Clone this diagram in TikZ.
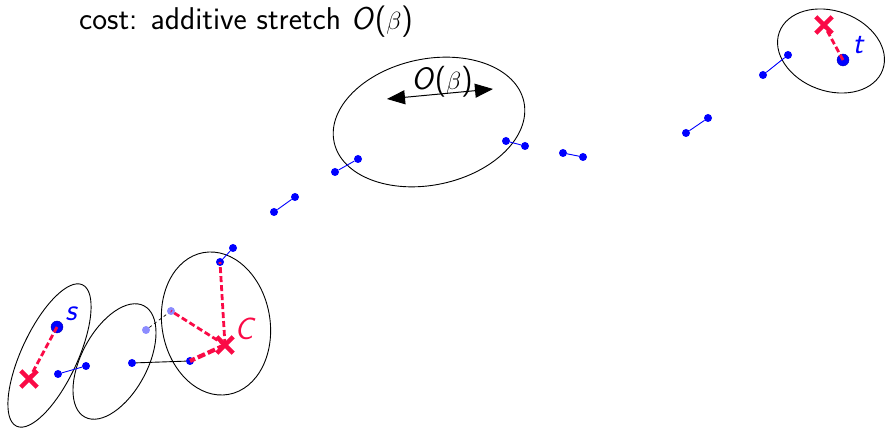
\documentclass[tikz,border=0pt]{standalone}
\usetikzlibrary{arrows.meta}
\definecolor{xred}{RGB}{250,10,70}
\begin{document}
\begin{tikzpicture}[x=1pt,y=1pt,
  dot/.style={circle,fill=blue,inner sep=0pt,minimum size=8pt},
  bigdot/.style={circle,fill=blue,draw=blue!70!black,inner sep=0pt,minimum size=12pt},
  fdot/.style={circle,fill=blue,fill opacity=0.45,inner sep=0pt,minimum size=8pt},
  xmark/.style={inner sep=0pt,minimum size=16pt},
  pair/.style={blue,line width=0.9pt},
  link/.style={black,line width=0.9pt},
  rdash/.style={xred,line width=2.8pt,dash pattern=on 6pt off 3pt},
  rdashthick/.style={xred,line width=4.2pt,dash pattern=on 8pt off 3pt},
  cluster/.style={black,line width=0.9pt},
  lab/.style={font=\fontsize{31}{35}\selectfont\sffamily\itshape,inner sep=0pt}]
\useasboundingbox (0,0) rectangle (886,430);
% clusters
\draw[cluster] (49.5,74.5) ellipse[x radius=78,y radius=28,rotate=65];
\draw[cluster] (114.5,68.5) ellipse[x radius=63,y radius=33,rotate=62];
\draw[cluster] (216,106.5) ellipse[x radius=72,y radius=54,rotate=100];
\draw[cluster] (429,308) ellipse[x radius=97,y radius=63,rotate=12];
\draw[cluster] (831,379) ellipse[x radius=55,y radius=40,rotate=-20];
% nodes
\node[bigdot] (s) at (57,103) {};
\node[lab,blue] (sl) at (71,116) {s};
\node[xmark] (xs) at (29,51) {};
\node[dot] (a1) at (58,56) {};
\node[dot] (a2) at (86,64) {};
\node[dot] (b1) at (132,67) {};
\node[dot] (b2) at (190,69) {};
\node[fdot] (f1) at (146,100) {};
\node[fdot] (f2) at (171,119) {};
\node[xmark] (xc) at (225,85) {};
\node[lab,xred] (cl) at (244,101) {C};
\node[dot] (c1) at (220,168) {};
\node[dot] (c2) at (233,182) {};
\node[dot] (d1) at (274,218) {};
\node[dot] (d2) at (295,233) {};
\node[dot] (e1) at (335,258) {};
\node[dot] (e2) at (358,271) {};
\node[dot] (g1) at (506,289) {};
\node[dot] (g2) at (525,284) {};
\node[dot] (h1) at (563,277) {};
\node[dot] (h2) at (583,273) {};
\node[dot] (i1) at (686,297) {};
\node[dot] (i2) at (708,312) {};
\node[dot] (j1) at (763,355) {};
\node[dot] (j2) at (788,375) {};
\node[bigdot] (t) at (843,370) {};
\node[lab,blue] (tl) at (858,385) {t};
\node[xmark] (xt) at (824,405) {};
% edges
\draw[pair] (a1) -- (a2);
\draw[link] (b1) -- (b2);
\draw[black,line width=0.7pt,dashed] (f1) -- (f2);
\draw[pair] (c1) -- (c2);
\draw[pair] (d1) -- (d2);
\draw[pair] (e1) -- (e2);
\draw[pair] (g1) -- (g2);
\draw[pair] (h1) -- (h2);
\draw[pair] (i1) -- (i2);
\draw[pair] (j1) -- (j2);
\draw[rdash] (s.center) -- (xs.center);
\draw[rdash] (t.center) -- (xt.center);
\draw[rdash] (xc.center) -- (c1.center);
\draw[rdash] (xc.center) -- (f2.center);
\draw[rdashthick] (xc.center) -- (b2.center);
% crosses
\foreach \p in {xs,xc,xt}{
  \draw[xred,line width=4.5pt] (\p.north west) -- (\p.south east) (\p.north east) -- (\p.south west);
}
% arrow
\coordinate (al) at (387,331);
\coordinate (ar) at (493,341);
\draw[line width=1pt,{Triangle[length=18pt,width=14pt]}-{Triangle[length=18pt,width=14pt]}] (al) -- (ar);
\node[font=\fontsize{31}{35}\selectfont\sffamily,inner sep=0pt] (ob) at (442,348) {\textit{O}($\beta$)};
% title
\node[font=\fontsize{31.5}{35}\selectfont\sffamily,anchor=west,inner sep=0pt] (title) at (79,408) {cost: additive stretch \textit{O}($\beta$)};
\end{tikzpicture}
\end{document}
